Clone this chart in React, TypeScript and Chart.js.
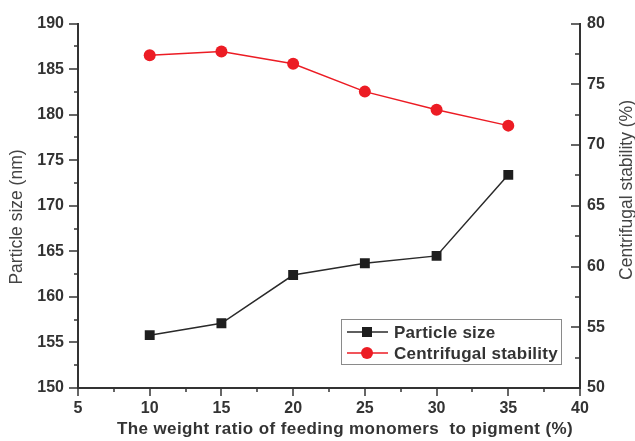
import React, { useEffect, useRef } from "react";
import { Chart, registerables } from "chart.js";

Chart.register(...registerables);

const xValues = [10, 15, 20, 25, 30, 35];
const particleSize = [155.8, 157.1, 162.4, 163.7, 164.5, 173.4];
const centrifugalStability = [77.4, 77.7, 76.7, 74.4, 72.9, 71.6];

const seriesLabels = ["Particle size", "Centrifugal stability"];
const xTitle = "The weight ratio of feeding monomers  to pigment (%)";
const yLeftTitle = "Particle size (nm)";
const yRightTitle = "Centrifugal stability (%)";

const X_MIN = 5, X_MAX = 40, X_STEP = 5;
const YL_MIN = 150, YL_MAX = 190, YL_STEP = 5;
const YR_MIN = 50, YR_MAX = 80, YR_STEP = 5;

const AXIS = "#333333";
const BLACK = "#1e1e1e";
const RED = "#ec1c24";
const FONT = "'Liberation Sans', Arial, sans-serif";

const ticksPlugin = {
  id: "customTicks",
  afterDraw(chart: any) {
    const ctx = chart.ctx;
    const { x, y, y1 } = chart.scales;
    ctx.save();
    ctx.strokeStyle = AXIS;
    ctx.lineWidth = 1.5;
    const isMajor = (v: number, min: number, step: number) =>
      Math.abs(((v - min) / step) - Math.round((v - min) / step)) < 1e-6;
    for (let v = X_MIN; v <= X_MAX + 1e-9; v += X_STEP / 2) {
      const len = isMajor(v, X_MIN, X_STEP) ? 8 : 4;
      const px = Math.round(x.getPixelForValue(v));
      ctx.beginPath();
      ctx.moveTo(px, chart.chartArea.bottom);
      ctx.lineTo(px, chart.chartArea.bottom + len);
      ctx.stroke();
    }
    for (let v = YL_MIN; v <= YL_MAX + 1e-9; v += YL_STEP / 2) {
      const len = isMajor(v, YL_MIN, YL_STEP) ? 9 : 4;
      const py = Math.round(y.getPixelForValue(v));
      ctx.beginPath();
      ctx.moveTo(chart.chartArea.left - len, py);
      ctx.lineTo(chart.chartArea.left, py);
      ctx.stroke();
    }
    for (let v = YR_MIN; v <= YR_MAX + 1e-9; v += YR_STEP / 2) {
      const len = isMajor(v, YR_MIN, YR_STEP) ? 9 : 5;
      const py = Math.round(y1.getPixelForValue(v));
      ctx.beginPath();
      ctx.moveTo(chart.chartArea.right - len, py);
      ctx.lineTo(chart.chartArea.right, py);
      ctx.stroke();
    }
    ctx.restore();
  },
};

const titlesPlugin = {
  id: "customTitles",
  afterDraw(chart: any) {
    const ctx = chart.ctx;
    ctx.save();
    ctx.textAlign = "center";
    ctx.textBaseline = "middle";
    ctx.fillStyle = "#444444";
    ctx.font = `17.5px ${FONT}`;
    ctx.save();
    ctx.translate(17, 217);
    ctx.rotate(-Math.PI / 2);
    ctx.fillText(yLeftTitle, 0, 0);
    ctx.restore();
    ctx.save();
    ctx.translate(627, 190);
    ctx.rotate(-Math.PI / 2);
    ctx.fillText(yRightTitle, 0, 0);
    ctx.restore();
    ctx.fillStyle = AXIS;
    ctx.font = `bold 17px ${FONT}`;
    (ctx as any).letterSpacing = "0.4px";
    ctx.fillText(xTitle, 345, 429);
    ctx.restore();
  },
};

const legendPlugin = {
  id: "customLegend",
  afterDraw(chart: any) {
    const ctx = chart.ctx;
    ctx.save();
    ctx.strokeStyle = "#8a8a8a";
    ctx.lineWidth = 1;
    ctx.strokeRect(341.5, 319.5, 220, 45);
    const rows = [332, 353];
    chart.data.datasets.forEach((ds: any, i: number) => {
      const yy = rows[i];
      ctx.strokeStyle = ds.borderColor;
      ctx.lineWidth = 1.5;
      ctx.beginPath();
      ctx.moveTo(347, yy);
      ctx.lineTo(388, yy);
      ctx.stroke();
      ctx.fillStyle = ds.pointBackgroundColor;
      if (ds.pointStyle === "rect") {
        ctx.fillRect(362, yy - 5, 10, 10);
      } else {
        ctx.beginPath();
        ctx.arc(367, yy, 6, 0, Math.PI * 2);
        ctx.fill();
      }
      ctx.fillStyle = AXIS;
      ctx.font = `bold 17px ${FONT}`;
      (ctx as any).letterSpacing = "0.25px";
      ctx.textAlign = "left";
      ctx.textBaseline = "middle";
      ctx.fillText(ds.label, 394, yy + 1);
    });
    ctx.restore();
  },
};

export default function App() {
  const canvasRef = useRef<HTMLCanvasElement | null>(null);

  useEffect(() => {
    if (!canvasRef.current) return;
    const tickFont = { family: FONT, size: 16, weight: "bold" as const };
    const chart = new Chart(canvasRef.current, {
      type: "line",
      data: {
        datasets: [
          {
            label: seriesLabels[0],
            data: xValues.map((xv, i) => ({ x: xv, y: particleSize[i] })),
            yAxisID: "y",
            borderColor: "#2a2a2a",
            backgroundColor: BLACK,
            pointBackgroundColor: BLACK,
            pointBorderColor: BLACK,
            pointStyle: "rect",
            pointRadius: 7,
            pointBorderWidth: 0,
            borderWidth: 1.5,
          },
          {
            label: seriesLabels[1],
            data: xValues.map((xv, i) => ({ x: xv, y: centrifugalStability[i] })),
            yAxisID: "y1",
            borderColor: RED,
            backgroundColor: RED,
            pointBackgroundColor: RED,
            pointBorderColor: RED,
            pointStyle: "circle",
            pointRadius: 6,
            pointBorderWidth: 0,
            borderWidth: 1.5,
          },
        ],
      },
      options: {
        responsive: false,
        animation: false,
        layout: { padding: { top: 20, left: 0, right: 0, bottom: 0 } },
        plugins: { legend: { display: false }, tooltip: { enabled: false } },
        scales: {
          x: {
            type: "linear",
            min: X_MIN,
            max: X_MAX,
            ticks: { stepSize: X_STEP, font: tickFont, color: AXIS, padding: 11 },
            grid: { drawOnChartArea: false, drawTicks: false },
            border: { color: AXIS, width: 2 },
            afterFit: (s: any) => { s.height = 53; },
          },
          y: {
            type: "linear",
            position: "left",
            min: YL_MIN,
            max: YL_MAX,
            ticks: { stepSize: YL_STEP, font: tickFont, color: AXIS, padding: 14 },
            grid: { drawOnChartArea: false, drawTicks: false },
            border: { color: AXIS, width: 2 },
            afterFit: (s: any) => { s.width = 78; },
          },
          y1: {
            type: "linear",
            position: "right",
            min: YR_MIN,
            max: YR_MAX,
            ticks: { stepSize: YR_STEP, font: tickFont, color: AXIS, padding: 7 },
            grid: { drawOnChartArea: false, drawTicks: false },
            border: { color: AXIS, width: 2 },
            afterFit: (s: any) => { s.width = 55; },
          },
        },
      },
      plugins: [ticksPlugin, titlesPlugin, legendPlugin],
    });
    return () => chart.destroy();
  }, []);

  return (
    <div style={{ position: "fixed", left: 0, top: 0, width: 635, height: 441, background: "#fff" }}>
      <canvas ref={canvasRef} width={635} height={441} style={{ width: 635, height: 441 }} />
    </div>
  );
}
